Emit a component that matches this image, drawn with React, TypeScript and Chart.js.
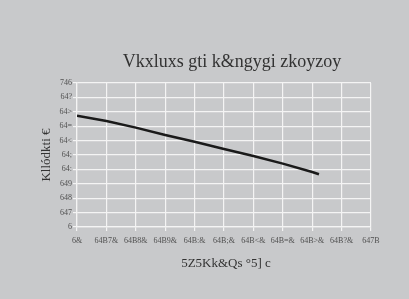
import React, { useEffect, useRef } from "react";
import { Chart, registerables } from "chart.js";

Chart.register(...registerables);

const titleText = "Vkxluxs gti k&ngygi zkoyzoy";
const xTitleText = "5Z5Kk&Qs °5] c";
const yTitleText = "Kllódkti €";
const xTickLabels = ["6&", "64B7&", "64B8&", "64B9&", "64B:&", "64B;&", "64B<&", "64B=&", "64B>&", "64B?&", "647B"];
const yTickLabels = ["6", "647", "648", "649", "64:", "64;", "64<", "64=", "64>", "64?", "746"];
const xValues = [0, 1, 2, 3, 4, 5, 6, 7, 8, 8.23];
const yValues = [0.773, 0.736, 0.69, 0.639, 0.592, 0.542, 0.493, 0.44, 0.382, 0.366];

const BG = "#c8c9cb";
const TEXT = "#333333";
const TICK = "#505050";

const textPlugin = {
  id: "customTexts",
  afterDraw(chart: any) {
    const { ctx, chartArea } = chart;
    const cx = (chartArea.left + chartArea.right) / 2;
    const cy = (chartArea.top + chartArea.bottom) / 2;
    ctx.save();
    ctx.fillStyle = TEXT;
    ctx.textAlign = "center";
    ctx.textBaseline = "middle";
    ctx.font = "18px 'Liberation Serif', serif";
    ctx.fillText(titleText, cx + 8, 62);
    ctx.font = "13px 'Liberation Serif', serif";
    ctx.fillText(xTitleText, cx + 2, 264);
    ctx.translate(47, cy);
    ctx.rotate(-Math.PI / 2);
    ctx.fillText(yTitleText, 0, 0);
    ctx.restore();
  },
};

const bgPlugin = {
  id: "bg",
  beforeDraw(chart: any) {
    const { ctx, width, height } = chart;
    ctx.save();
    ctx.fillStyle = BG;
    ctx.fillRect(0, 0, width, height);
    ctx.restore();
  },
};

export default function App() {
  const ref = useRef<HTMLCanvasElement>(null);
  useEffect(() => {
    document.body.style.margin = "0";
    const canvas = ref.current!;
    const chart = new Chart(canvas, {
      type: "line",
      data: {
        datasets: [
          {
            data: xValues.map((x, i) => ({ x, y: yValues[i] })),
            borderColor: "#1a1a1a",
            borderWidth: 2.5,
            pointRadius: 0,
            tension: 0,
            fill: false,
          },
        ],
      },
      options: {
        animation: false,
        responsive: false,
        maintainAspectRatio: false,
        layout: { padding: { left: 57, right: 38, top: 83, bottom: 52 } },
        plugins: { legend: { display: false }, title: { display: false }, tooltip: { enabled: false } },
        scales: {
          x: {
            type: "linear",
            min: 0,
            max: 10,
            afterFit: (s: any) => { s.height = 20; },
            ticks: {
              stepSize: 1,
              autoSkip: false,
              maxRotation: 0,
              padding: 5,
              color: TICK,
              font: { family: "'Liberation Sans Narrow', 'Liberation Serif', serif", size: 8 },
              callback: (v: any) => xTickLabels[Math.round(Number(v))] ?? "",
            },
            grid: { color: "#f4f4f4", lineWidth: 1.2, tickLength: 4 },
            border: { color: "#f4f4f4", width: 1.2 },
          },
          y: {
            min: 0,
            max: 1,
            afterFit: (s: any) => { s.width = 20; },
            ticks: {
              stepSize: 0.1,
              autoSkip: false,
              padding: 1,
              color: TICK,
              font: { family: "'Liberation Serif', serif", size: 8 },
              callback: (v: any) => yTickLabels[Math.round(Number(v) * 10)] ?? "",
            },
            grid: { color: "#f4f4f4", lineWidth: 1.2, tickLength: 4 },
            border: { color: "#f4f4f4", width: 1.2 },
          },
        },
      },
      plugins: [bgPlugin, textPlugin],
    });
    return () => chart.destroy();
  }, []);
  return <canvas ref={ref} width={409} height={299} style={{ display: "block" }} />;
}
